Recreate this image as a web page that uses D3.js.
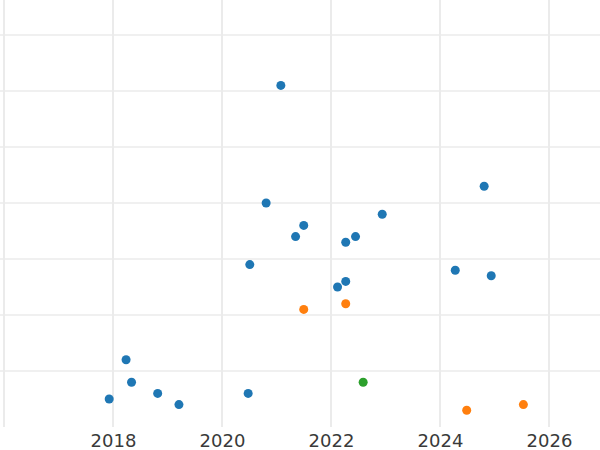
<!DOCTYPE html>
<html>
<head>
<meta charset="utf-8">
<script src="https://cdn.jsdelivr.net/npm/d3@7"></script>
<style>
  body { margin: 0; background: #fff; }
  svg { display: block; }
</style>
</head>
<body>
<svg width="600" height="450"></svg>
<script>
// data: year (x) and value (y)
var blueX = [2021.08, 2024.81, 2020.81, 2021.50, 2022.94, 2021.35, 2022.45, 2022.27, 2020.51, 2024.28,
             2024.94, 2022.27, 2022.12, 2018.24, 2018.34, 2017.93, 2018.82, 2019.21, 2020.48];
var blueY = [6.1, 4.3, 4.0, 3.6, 3.8, 3.4, 3.4, 3.3, 2.9, 2.8,
             2.7, 2.6, 2.5, 1.2, 0.8, 0.5, 0.6, 0.4, 0.6];
var orangeX = [2021.50, 2022.27, 2024.49, 2025.53];
var orangeY = [2.1, 2.2, 0.3, 0.4];
var greenX = [2022.59];
var greenY = [0.8];
var xTicks = [2016, 2018, 2020, 2022, 2024, 2026];
var yTicks = [1, 2, 3, 4, 5, 6, 7];

var series = [
  {xs: blueX, ys: blueY, color: "#1f77b4"},
  {xs: orangeX, ys: orangeY, color: "#ff7f0e"},
  {xs: greenX, ys: greenY, color: "#2ca02c"}
];

var svg = d3.select("svg"),
    width = +svg.attr("width"),
    plotBottom = 427;

var x = d3.scaleLinear().domain([2016, 2026]).range([4, 549]);
var y = d3.scaleLinear().domain([0, 7]).range([plotBottom, 35]);

// grid lines
svg.append("g")
  .selectAll("line")
  .data(yTicks)
  .enter().append("line")
  .attr("x1", 0).attr("x2", width)
  .attr("y1", function(d) { return y(d); })
  .attr("y2", function(d) { return y(d); })
  .attr("stroke", "#ebebeb")
  .attr("stroke-width", 1.5);

svg.append("g")
  .selectAll("line")
  .data(xTicks)
  .enter().append("line")
  .attr("x1", function(d) { return x(d); })
  .attr("x2", function(d) { return x(d); })
  .attr("y1", 0).attr("y2", plotBottom)
  .attr("stroke", "#ebebeb")
  .attr("stroke-width", 2);

// x axis labels, no domain line / ticks
var xAxis = d3.axisBottom(x)
  .tickValues(xTicks.filter(function(d) { return d > 2016; }))
  .tickFormat(d3.format("d"))
  .tickSize(0)
  .tickPadding(7);

var gx = svg.append("g")
  .attr("transform", "translate(0," + plotBottom + ")")
  .call(xAxis);
gx.select(".domain").remove();
gx.selectAll("text")
  .attr("font-family", "DejaVu Sans, sans-serif")
  .attr("font-size", "18px")
  .attr("fill", "#3a3a3a");

// points
series.forEach(function(s) {
  svg.append("g")
    .selectAll("circle")
    .data(s.xs.map(function(v, i) { return [v, s.ys[i]]; }))
    .enter().append("circle")
    .attr("cx", function(d) { return x(d[0]); })
    .attr("cy", function(d) { return y(d[1]); })
    .attr("r", 4.5)
    .attr("fill", s.color);
});
</script>
</body>
</html>
